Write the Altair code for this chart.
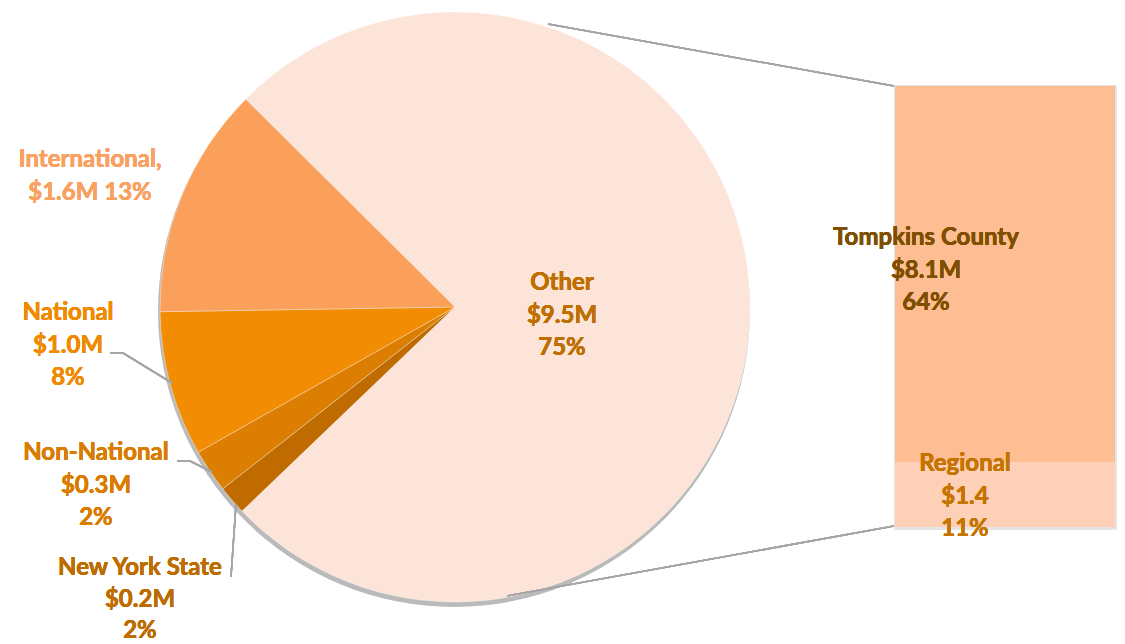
import math
import altair as alt
import pandas as pd

# ---- data ----
pie_categories = ["Other", "New York State", "Non-National", "National", "International"]
pie_values = [9.5, 0.2, 0.3, 1.0, 1.6]          # $M
pie_pcts = [75, 2, 2, 8, 13]
pie_colors = ["#FDE4D9", "#BF6B00", "#DB7E02", "#F28C02", "#FBA05A"]

bar_categories = ["Regional", "Tompkins County"]
bar_values = [1.4, 8.1]                          # $M
bar_pcts = [11, 64]
bar_value_text = ["$1.4", "$8.1M"]
bar_colors = ["#FFD0B8", "#FFBD93"]

pie_df = pd.DataFrame({
    "category": pie_categories,
    "value": pie_values,
    "pct": pie_pcts,
    "order": list(range(len(pie_categories))),
})
bar_df = pd.DataFrame({
    "segment": bar_categories,
    "amount": bar_values,
    "pct": bar_pcts,
    "order": list(range(len(bar_categories))),
})

FONT = "Lato"
FS = 24
LH = 32.5
GRAY = "#A6A6A6"

W, H = 1109, 636
CX, CY, R = 447, 299, 295
start = math.radians(314.8)

pie = alt.Chart(pie_df).mark_arc(stroke="#FFFFFF", strokeWidth=0.6, strokeOpacity=0.6).encode(
    theta=alt.Theta("value:Q", stack=True,
                    scale=alt.Scale(range=[start, start + 2 * math.pi])),
    order=alt.Order("order:Q"),
    color=alt.Color("category:N", legend=None,
                    scale=alt.Scale(domain=pie_categories, range=pie_colors)),
    x=alt.value(CX), y=alt.value(CY),
    radius=alt.value(R),
)

shadow = alt.Chart(pie_df).mark_arc(color="#000000", opacity=0.06).encode(
    theta=alt.value(0), theta2=alt.value(2 * math.pi),
    x=alt.value(CX - 1), y=alt.value(CY + 4), radius=alt.value(R + 1),
)

bar_shadow = alt.Chart(bar_df).mark_rect(color="#000000", opacity=0.05).encode(
    x=alt.value(886), x2=alt.value(1109),
    y=alt.value(77), y2=alt.value(522),
)

bar = alt.Chart(bar_df).transform_stack(
    stack="amount", as_=["y0", "y1"], groupby=[],
    sort=[alt.SortField("order", order="ascending")],
).mark_rect().encode(
    x=alt.value(887), x2=alt.value(1107),
    y=alt.Y("y0:Q", scale=alt.Scale(domain=[0, sum(bar_values)], range=[519, 78]),
            axis=None),
    y2="y1:Q",
    color=alt.Color("segment:N", legend=None,
                    scale=alt.Scale(domain=bar_categories, range=bar_colors)),
)

def label(lines, x, y, color, lh=LH):
    # x, y: screen position of the centre of the first line
    return alt.Chart(pie_df).mark_text(
        font=FONT, fontSize=FS, fontWeight="bold", color=color,
        align="center", baseline="middle", lineHeight=lh,
    ).encode(x=alt.value(x - 8), y=alt.value(y - 8), text=alt.value(lines))

def three(name, val, pct):
    return [name, val, f"{pct}%"]

labels = [
    label([f"{pie_categories[4]},", f"${pie_values[4]:.1f}M {pie_pcts[4]}%"], 90, 160, "#F9A160"),
    label(three(pie_categories[3], f"${pie_values[3]:.1f}M", pie_pcts[3]), 68, 313, "#F08A00"),
    label(three(pie_categories[2], f"${pie_values[2]:.1f}M", pie_pcts[2]), 96, 453, "#D97C00"),
    label(three(pie_categories[1], f"${pie_values[1]:.1f}M", pie_pcts[1]), 140, 568, "#BD6C00", 31.5),
    label(three(pie_categories[0], f"${pie_values[0]:.1f}M", pie_pcts[0]), 562, 283, "#BE6F00"),
    label(three(bar_categories[1], bar_value_text[1], bar_pcts[1]), 926, 238, "#7F4F00"),
    label(three(bar_categories[0], bar_value_text[0], bar_pcts[0]), 965, 464, "#C57400"),
]

def seg(x1, y1, x2, y2):
    return alt.Chart(pie_df).mark_rule(color=GRAY, strokeWidth=1.5).encode(
        x=alt.value(x1 - 8), y=alt.value(y1 - 8),
        x2=alt.value(x2 - 8), y2=alt.value(y2 - 8),
    )

lines = [
    seg(548, 24, 894, 86),
    seg(507, 596, 894, 526),
    seg(110, 353, 123, 353), seg(123, 353, 172, 383),
    seg(177, 461, 190, 461), seg(190, 461, 212, 472),
    seg(231, 577, 236, 504),
]

chart = alt.layer(shadow, pie, bar_shadow, bar, *lines, *labels).resolve_scale(
    color="independent"
).properties(
    width=W, height=H, padding=0, autosize="none",
).configure_view(stroke=None)

chart.save("out.html", embed_options={"renderer": "svg", "actions": False})
